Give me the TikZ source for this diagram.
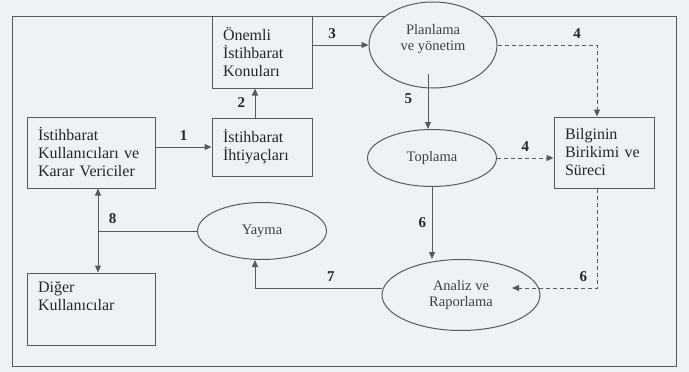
\documentclass[tikz,border=0pt]{standalone}
\usepackage{fontspec}
\newfontfamily\diagfont{Liberation Serif}
\usetikzlibrary{positioning,arrows.meta,calc,shapes.geometric}
\definecolor{bgcol}{RGB}{238,242,247}
\definecolor{linecol}{RGB}{90,90,90}

\begin{document}
\begin{tikzpicture}[x=1pt,y=-1pt,
  box/.style={draw=linecol, fill=bgcol, line width=1pt, align=left, inner xsep=11pt,
    font=\diagfont\fontsize{16}{18}\selectfont, text=black!85},
  oval/.style={ellipse, draw=linecol, fill=bgcol, line width=1pt, align=center, inner sep=0pt,
    font=\diagfont\fontsize{14.5}{16.5}\selectfont, text=black!75},
  link/.style={draw=linecol, line width=1pt},
  sig/.style={link, -{Triangle[length=7pt,width=6pt]}},
  dsig/.style={sig, dash pattern=on 4pt off 3pt},
  num/.style={font=\diagfont\fontsize{15}{16}\selectfont\bfseries, text=black!85}]
\useasboundingbox (0,0) rectangle (689,372);
\fill[bgcol] (0,0) rectangle (689,372);
\draw[link] (12,16) rectangle (676,366);
% boxes
\node[box, text width=106pt, minimum height=71pt] (kul) at (91,152.5) {İstihbarat\\Kullanıcıları ve\\Karar Vericiler};
\node[box, text width=78pt, minimum height=72pt] (onem) at (262,52) {Önemli\\İstihbarat\\Konuları};
\node[box, text width=78pt, minimum height=58pt] (ihti) at (262,147) {İstihbarat\\İhtiyaçları};
\node[box, text width=78pt, minimum height=71pt] (bilgi) at (604,152.5) {Bilginin\\Birikimi ve\\Süreci};
\node[box, text width=106pt, minimum height=72pt] (diger) at (91,309) {};
\node[box, draw=none, fill=none, anchor=north west] (digertxt) at ([yshift=-5pt]diger.north west) {Diğer\\Kullanıcılar};
% ellipses
\node[oval, minimum width=128pt, minimum height=86pt, text depth=15pt] (plan) at (433,45) {Planlama\\ve yönetim};
\node[oval, minimum width=129pt, minimum height=57pt] (topl) at (432,158) {Toplama};
\node[oval, minimum width=158pt, minimum height=71pt] (anal) at (461,295) {Analiz ve\\Raporlama};
\node[oval, minimum width=129pt, minimum height=57pt] (yay) at (262,231) {Yayma};
\coordinate (a6) at (512,288);
\coordinate (j8) at ([xshift=7pt]kul.south |- yay.west);
% connectors
\draw[sig] (kul.east |- ihti) -- node[num, above=3pt]{1} (ihti);
\draw[sig] ([xshift=-7pt]ihti.north) -- node[num, left=6pt]{2} ([xshift=-7pt]onem.south);
\draw[sig] (onem.east |- plan) -- node[num, pos=0.35, above=3pt]{3} (plan);
\draw[dsig] (plan.east) -| node[num, pos=0.4, above=3pt]{4} ([xshift=-7pt]bilgi.north);
\draw[sig] ([xshift=-5pt,yshift=15pt]plan.south) -- node[num, pos=0.45, left=12pt]{5} ([xshift=-4pt]topl.north);
\draw[dsig] (topl.east) -- node[num, above=3pt]{4} (topl.east -| bilgi.west);
\draw[sig] (topl.south) -- node[num, left=2pt]{6} (topl.south |- anal.north);
\draw[dsig] ([xshift=-7pt]bilgi.south) |- node[num, pos=0.58, above=3pt]{6} (a6);
\draw[sig] ([yshift=7pt]anal.west) -| node[num, pos=0.2, above=3pt]{7} ([xshift=-7pt]yay.south);
\draw[link] (yay.west) -- (j8) node[num, above right=4pt and 7pt]{8};
\draw[link, {Triangle[length=7pt,width=6pt]}-{Triangle[length=7pt,width=6pt]}] ([xshift=7pt]kul.south) -- ([xshift=7pt]diger.north);
\end{tikzpicture}
\end{document}
